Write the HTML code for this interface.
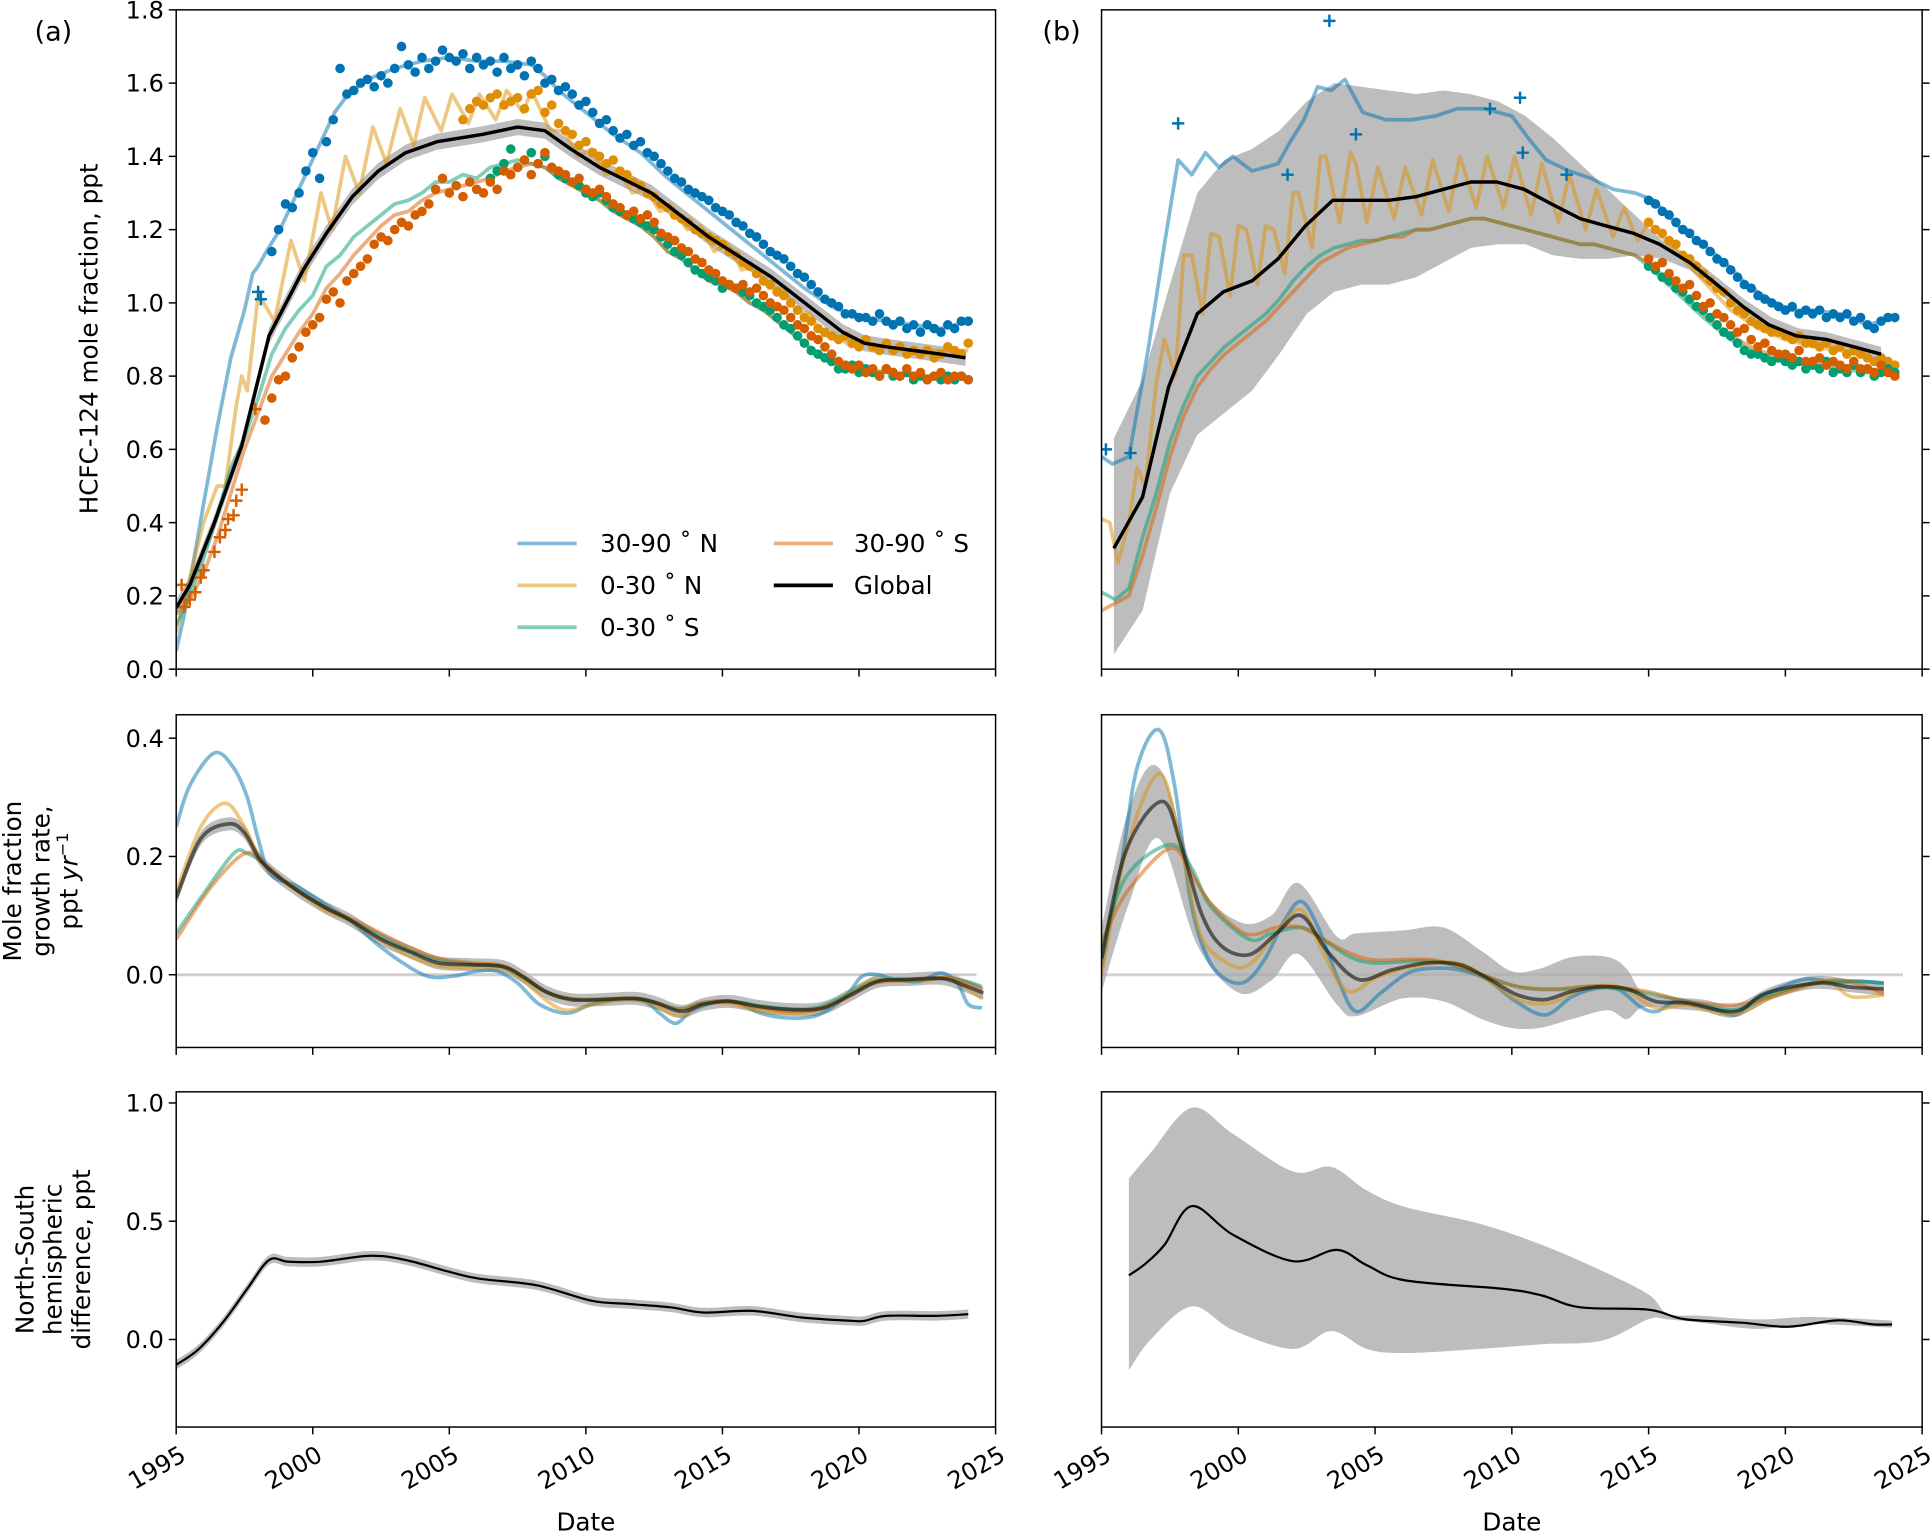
<!DOCTYPE html>
<html><head><meta charset="utf-8"><title>HCFC-124</title>
<style>html,body{margin:0;padding:0;background:#fff;}svg{display:block;font-family:"DejaVu Sans","Liberation Sans",sans-serif;}</style>
</head><body>
<svg id="chart" xmlns="http://www.w3.org/2000/svg" width="1932" height="1533" viewBox="0 0 1568 1244" preserveAspectRatio="none"></svg>
<script>
// ---------- DATA ----------
const yearTicks = [1995, 2000, 2005, 2010, 2015, 2020, 2025];
const topTicks = [0.0, 0.2, 0.4, 0.6, 0.8, 1.0, 1.2, 1.4, 1.6, 1.8];
const midTicks = [0.0, 0.2, 0.4];
const botTicks = [0.0, 0.5, 1.0];

// Panel (a) top: lines [year, value]
const aBlueLine = [[1995,0.05],[1995.3,0.15],[1995.6,0.28],[1996,0.45],[1996.5,0.66],[1997,0.85],[1997.5,0.98],[1997.8,1.08],[1998,1.10],[1998.3,1.14],[1998.8,1.20],[1999.3,1.28],[1999.8,1.36],[2000.3,1.44],[2000.8,1.52],[2001.3,1.57],[2002,1.61],[2003,1.64],[2004,1.66],[2005,1.67],[2006,1.66],[2007,1.66],[2008,1.65],[2008.5,1.62],[2009,1.58],[2010,1.52],[2011,1.46],[2012,1.41],[2013,1.34],[2014,1.28],[2015,1.22],[2016,1.16],[2017,1.10],[2018,1.04],[2019,0.99],[2020,0.96],[2021,0.95],[2022,0.94],[2023,0.93],[2024,0.95]];
const aYellowLine = [[1995,0.10],[1995.5,0.25],[1996,0.40],[1996.5,0.50],[1996.8,0.50],[1997.2,0.72],[1997.4,0.80],[1997.6,0.76],[1998.0,1.02],[1998.2,1.00],[1998.6,0.95],[1999.2,1.17],[1999.7,1.06],[2000.3,1.30],[2000.7,1.20],[2001.2,1.40],[2001.7,1.30],[2002.2,1.48],[2002.7,1.38],[2003.2,1.53],[2003.7,1.43],[2004.1,1.56],[2004.7,1.47],[2005.1,1.57],[2005.7,1.49],[2006.1,1.57],[2006.7,1.50],[2007.1,1.58],[2007.7,1.52],[2008.0,1.58],[2008.7,1.47],[2009.2,1.47],[2009.7,1.40],[2010.2,1.42],[2010.7,1.35],[2011.2,1.36],[2011.7,1.30],[2012.2,1.31],[2012.7,1.25],[2013.2,1.26],[2013.7,1.20],[2014.2,1.21],[2014.7,1.14],[2015.2,1.16],[2015.7,1.09],[2016.2,1.10],[2016.7,1.04],[2017.2,1.04],[2017.7,0.98],[2018.2,0.97],[2018.7,0.91],[2019.2,0.91],[2019.7,0.88],[2020.2,0.89],[2021,0.88],[2022,0.87],[2023,0.87],[2024,0.87]];
const aGreenLine = [[1995,0.12],[1995.5,0.20],[1996,0.30],[1996.5,0.42],[1997,0.55],[1997.5,0.63],[1998,0.74],[1998.5,0.86],[1999,0.93],[1999.5,0.98],[2000,1.02],[2000.5,1.10],[2001,1.13],[2001.5,1.18],[2002,1.21],[2002.5,1.24],[2003,1.27],[2003.5,1.28],[2004,1.30],[2004.5,1.33],[2005,1.33],[2005.5,1.35],[2006,1.34],[2006.5,1.37],[2007,1.38],[2007.5,1.39],[2008,1.38],[2008.5,1.37],[2009,1.34],[2009.5,1.32],[2010,1.30],[2010.5,1.28],[2011,1.25],[2011.5,1.23],[2012,1.21],[2012.5,1.18],[2013,1.14],[2013.5,1.12],[2014,1.09],[2014.5,1.06],[2015,1.05],[2015.5,1.03],[2016,1.00],[2016.5,0.98],[2017,0.95],[2017.5,0.92],[2018,0.89],[2018.5,0.86],[2019,0.84],[2019.5,0.83],[2020,0.82],[2021,0.81],[2022,0.80],[2023,0.80],[2024,0.79]];
const aOrangeLine = [[1995,0.15],[1995.5,0.19],[1996,0.26],[1996.5,0.36],[1997,0.48],[1997.5,0.60],[1998,0.70],[1998.5,0.80],[1999,0.86],[1999.5,0.92],[2000,0.97],[2000.5,1.04],[2001,1.08],[2001.5,1.13],[2002,1.17],[2002.5,1.21],[2003,1.24],[2003.5,1.25],[2004,1.28],[2004.5,1.30],[2005,1.31],[2005.5,1.32],[2006,1.33],[2006.5,1.34],[2007,1.36],[2007.5,1.37],[2008,1.38],[2008.5,1.37],[2009,1.34],[2009.5,1.32],[2010,1.30],[2010.5,1.28],[2011,1.25],[2011.5,1.23],[2012,1.21],[2012.5,1.18],[2013,1.14],[2013.5,1.12],[2014,1.09],[2014.5,1.06],[2015,1.05],[2015.5,1.03],[2016,1.00],[2016.5,0.98],[2017,0.95],[2017.5,0.92],[2018,0.89],[2018.5,0.86],[2019,0.84],[2019.5,0.83],[2020,0.82],[2021,0.81],[2022,0.80],[2023,0.80],[2024,0.79]];
const aGlobalLine = [[1995,0.167],[1995.5,0.23],[1996.4,0.40],[1997.4,0.61],[1998.4,0.91],[1999.65,1.09],[2000.5,1.19],[2001.45,1.29],[2002.4,1.36],[2003.4,1.41],[2004.55,1.44],[2006.2,1.46],[2007.5,1.48],[2008.5,1.47],[2009.45,1.42],[2010.5,1.37],[2012.4,1.30],[2014.5,1.18],[2016.8,1.07],[2019.4,0.92],[2020.2,0.89],[2021,0.88],[2022,0.87],[2023,0.86],[2023.9,0.85]];
const aGlobalErr = 0.022;

// Panel (a) dots: start year, quarterly values
const aBlueDotsStart = 1998.5;
const aBlueDots = [1.14,1.20,1.27,1.26,1.30,1.36,1.41,1.34,1.44,1.50,1.64,1.57,1.58,1.60,1.61,1.59,1.62,1.60,1.64,1.70,1.65,1.63,1.67,1.64,1.66,1.69,1.67,1.66,1.68,1.64,1.67,1.65,1.66,1.63,1.67,1.64,1.65,1.62,1.66,1.64,1.60,1.61,1.58,1.59,1.57,1.54,1.55,1.52,1.49,1.50,1.47,1.45,1.46,1.43,1.44,1.41,1.40,1.38,1.36,1.34,1.33,1.31,1.30,1.29,1.28,1.26,1.25,1.24,1.22,1.21,1.19,1.18,1.16,1.14,1.13,1.12,1.10,1.08,1.07,1.05,1.03,1.01,1.00,0.99,0.97,0.97,0.96,0.96,0.95,0.97,0.95,0.94,0.95,0.93,0.94,0.92,0.94,0.93,0.92,0.94,0.93,0.95,0.95];
const aYellowDotsStart = 2005.5;
const aYellowDots = [1.50,1.53,1.55,1.54,1.56,1.57,1.54,1.55,1.56,1.53,1.57,1.58,1.52,1.54,1.49,1.47,1.46,1.43,1.44,1.41,1.40,1.38,1.39,1.36,1.35,1.33,1.32,1.30,1.29,1.27,1.26,1.24,1.23,1.22,1.20,1.19,1.18,1.17,1.16,1.14,1.13,1.11,1.10,1.08,1.06,1.05,1.03,1.02,1.00,0.98,0.96,0.95,0.93,0.92,0.91,0.90,0.91,0.89,0.88,0.90,0.88,0.87,0.89,0.87,0.88,0.86,0.87,0.86,0.87,0.85,0.86,0.88,0.87,0.86,0.89];
const aGreenDotsStart = 2006.5;
const aGreenDots = [1.34,1.36,1.38,1.42,1.37,1.39,1.41,1.38,1.40,1.37,1.35,1.34,1.33,1.32,1.30,1.29,1.30,1.28,1.26,1.25,1.24,1.23,1.22,1.21,1.20,1.18,1.16,1.14,1.13,1.11,1.09,1.08,1.07,1.06,1.04,1.05,1.04,1.03,1.02,1.00,0.99,0.98,0.96,0.94,0.93,0.91,0.89,0.87,0.86,0.85,0.84,0.82,0.82,0.83,0.81,0.82,0.81,0.80,0.82,0.80,0.80,0.81,0.79,0.80,0.79,0.80,0.79,0.80,0.79,0.80,0.79];
const aOrangeDotsStart = 1998.25;
const aOrangeDots = [0.68,0.74,0.79,0.80,0.85,0.88,0.92,0.94,0.96,1.01,1.03,1.00,1.06,1.08,1.10,1.12,1.16,1.18,1.17,1.20,1.22,1.21,1.24,1.25,1.27,1.31,1.34,1.30,1.32,1.29,1.33,1.31,1.30,1.33,1.31,1.36,1.35,1.37,1.39,1.35,1.38,1.41,1.37,1.36,1.35,1.33,1.34,1.31,1.30,1.31,1.29,1.27,1.26,1.24,1.25,1.23,1.24,1.22,1.19,1.18,1.17,1.15,1.14,1.12,1.11,1.09,1.08,1.06,1.05,1.04,1.05,1.03,1.04,1.02,1.00,0.99,0.98,0.96,0.94,0.93,0.91,0.90,0.88,0.86,0.84,0.83,0.82,0.83,0.81,0.82,0.80,0.82,0.81,0.80,0.82,0.80,0.81,0.79,0.80,0.81,0.79,0.80,0.80,0.79];
const aOrangeCrosses = [[1995.2,0.23],[1995.3,0.17],[1995.5,0.19],[1995.7,0.21],[1995.9,0.25],[1996.0,0.27],[1996.4,0.32],[1996.6,0.36],[1996.8,0.38],[1996.9,0.41],[1997.1,0.42],[1997.2,0.46],[1997.4,0.49],[1997.9,0.71]];
const aBlueCrosses = [[1998.0,1.03],[1998.1,1.01]];

// Panel (b) top
const bBlueLine = [[1995,0.58],[1995.4,0.56],[1996,0.58],[1996.7,0.87],[1997.3,1.16],[1997.8,1.39],[1998.3,1.35],[1998.8,1.41],[1999.3,1.37],[1999.8,1.40],[2000.5,1.36],[2001.45,1.38],[2001.9,1.44],[2002.4,1.50],[2002.9,1.59],[2003.4,1.58],[2003.9,1.61],[2004.55,1.52],[2005.4,1.50],[2006.35,1.50],[2007.2,1.51],[2008,1.53],[2009,1.53],[2010,1.51],[2010.6,1.45],[2011.25,1.39],[2012.1,1.36],[2012.9,1.34],[2013.7,1.31],[2014.5,1.30],[2015.2,1.28],[2016.2,1.20],[2017,1.16],[2017.8,1.11],[2018.6,1.05],[2019.4,1.01],[2020.2,0.98],[2021,0.98],[2022,0.97],[2023,0.94],[2024,0.96]];
const bYellowLine = [[1995,0.41],[1995.3,0.40],[1995.6,0.29],[1996,0.40],[1996.3,0.55],[1996.6,0.50],[1997.0,0.78],[1997.3,0.90],[1997.7,0.80],[1998.0,1.13],[1998.3,1.13],[1998.7,0.97],[1999.0,1.19],[1999.3,1.18],[1999.7,1.02],[2000.0,1.21],[2000.3,1.20],[2000.7,1.05],[2001.0,1.21],[2001.3,1.20],[2001.7,1.08],[2002.0,1.30],[2002.2,1.30],[2002.7,1.15],[2003.0,1.40],[2003.2,1.40],[2003.7,1.22],[2004.1,1.41],[2004.3,1.38],[2004.7,1.22],[2005.1,1.37],[2005.7,1.23],[2006.1,1.37],[2006.7,1.24],[2007.1,1.39],[2007.7,1.25],[2008.1,1.40],[2008.7,1.26],[2009.1,1.40],[2009.7,1.26],[2010.1,1.40],[2010.7,1.24],[2011.1,1.38],[2011.7,1.22],[2012.1,1.35],[2012.7,1.20],[2013.1,1.31],[2013.7,1.18],[2014.1,1.26],[2014.6,1.17],[2015.0,1.22],[2016,1.14],[2017,1.06],[2018,0.98],[2019,0.93],[2020,0.90],[2021,0.88],[2022,0.87],[2023,0.85],[2024,0.83]];
const bGreenLine = [[1995,0.21],[1995.5,0.19],[1996,0.22],[1996.5,0.36],[1997,0.48],[1997.5,0.62],[1998,0.72],[1998.5,0.80],[1999,0.84],[1999.5,0.88],[2000,0.91],[2000.5,0.94],[2001,0.97],[2001.5,1.01],[2002,1.06],[2002.5,1.10],[2003,1.13],[2003.5,1.15],[2004,1.16],[2004.5,1.17],[2005,1.17],[2005.5,1.18],[2006,1.19],[2006.5,1.20],[2007,1.20],[2007.5,1.21],[2008,1.22],[2008.5,1.23],[2009,1.23],[2009.5,1.22],[2010,1.21],[2010.5,1.20],[2011,1.19],[2011.5,1.18],[2012,1.17],[2012.5,1.16],[2013,1.16],[2013.5,1.15],[2014,1.14],[2014.5,1.13],[2015,1.10],[2016,1.03],[2017,0.96],[2018,0.90],[2019,0.86],[2020,0.84],[2021,0.83],[2022,0.82],[2023,0.81],[2024,0.81]];
const bOrangeLine = [[1995,0.16],[1995.5,0.18],[1996,0.20],[1996.5,0.31],[1997,0.44],[1997.5,0.58],[1998,0.69],[1998.5,0.77],[1999,0.82],[1999.5,0.86],[2000,0.89],[2000.5,0.92],[2001,0.95],[2001.5,0.99],[2002,1.03],[2002.5,1.07],[2003,1.11],[2003.5,1.13],[2004,1.15],[2004.5,1.16],[2005,1.17],[2005.5,1.18],[2006,1.18],[2006.5,1.20],[2007,1.20],[2007.5,1.21],[2008,1.22],[2008.5,1.23],[2009,1.23],[2009.5,1.22],[2010,1.21],[2010.5,1.20],[2011,1.19],[2011.5,1.18],[2012,1.17],[2012.5,1.16],[2013,1.16],[2013.5,1.15],[2014,1.14],[2014.5,1.13],[2015,1.11],[2016,1.04],[2017,0.97],[2018,0.91],[2019,0.87],[2020,0.85],[2021,0.84],[2022,0.83],[2023,0.82],[2024,0.81]];
const bGlobalLine = [[1995.45,0.33],[1996.5,0.47],[1997.45,0.77],[1998.5,0.97],[1999.45,1.03],[2000.5,1.06],[2001.45,1.12],[2002.45,1.21],[2003.45,1.28],[2004.5,1.28],[2005.5,1.28],[2006.5,1.29],[2007.5,1.31],[2008.5,1.33],[2009.45,1.33],[2010.45,1.31],[2011.45,1.27],[2012.5,1.23],[2013.45,1.21],[2014.45,1.19],[2015.4,1.16],[2016.5,1.11],[2017.5,1.05],[2018.45,0.99],[2019.4,0.94],[2020.4,0.91],[2021.5,0.90],[2022.5,0.88],[2023.5,0.86]];
const bBandYears = [1995.45,1996.5,1997.5,1998.5,1999.5,2000.5,2001.5,2002.5,2003.5,2004.5,2005.5,2006.5,2007.5,2008.5,2009.5,2010.5,2011.5,2012.5,2013.5,2014.5,2015.5,2016.5,2017.5,2018.5,2019.5,2020.5,2021.5,2022.5,2023.5];
const bBandUpper = [0.63,0.79,1.05,1.30,1.39,1.42,1.47,1.55,1.60,1.59,1.58,1.57,1.58,1.57,1.55,1.51,1.45,1.38,1.31,1.24,1.17,1.13,1.07,1.01,0.96,0.93,0.92,0.90,0.88];
const bBandLower = [0.04,0.16,0.48,0.64,0.70,0.76,0.86,0.97,1.03,1.05,1.05,1.07,1.11,1.15,1.16,1.16,1.13,1.12,1.12,1.13,1.12,1.09,1.03,0.97,0.92,0.89,0.88,0.86,0.84];
const bDotsStart = 2015.0;
const bBlueDots = [1.28,1.27,1.25,1.24,1.22,1.20,1.19,1.17,1.16,1.14,1.12,1.11,1.09,1.07,1.05,1.04,1.02,1.01,1.00,0.99,0.98,0.99,0.97,0.98,0.97,0.98,0.96,0.97,0.96,0.97,0.95,0.96,0.94,0.93,0.95,0.96,0.96];
const bYellowDots = [1.22,1.20,1.19,1.17,1.16,1.13,1.12,1.10,1.08,1.06,1.04,1.03,1.00,0.98,0.97,0.95,0.94,0.93,0.92,0.92,0.91,0.90,0.91,0.89,0.89,0.88,0.89,0.87,0.88,0.86,0.87,0.86,0.85,0.84,0.85,0.84,0.83];
const bOrangeDots = [1.12,1.10,1.11,1.08,1.06,1.04,1.05,1.02,0.99,1.00,0.97,0.96,0.94,0.92,0.93,0.90,0.88,0.89,0.87,0.86,0.86,0.85,0.87,0.84,0.84,0.85,0.83,0.84,0.83,0.82,0.84,0.82,0.82,0.81,0.83,0.81,0.80];
const bGreenDots = [1.10,1.09,1.07,1.06,1.04,1.03,1.01,0.99,0.98,0.96,0.94,0.92,0.91,0.89,0.87,0.86,0.86,0.85,0.84,0.85,0.84,0.83,0.84,0.82,0.83,0.82,0.84,0.81,0.82,0.81,0.83,0.81,0.82,0.80,0.81,0.82,0.81];
const bBlueCrosses = [[1995.16,0.60],[1996.06,0.59],[1997.8,1.49],[2001.8,1.35],[2003.33,1.77],[2004.3,1.46],[2009.2,1.53],[2010.3,1.56],[2010.4,1.41],[2012.0,1.35]];

// Growth rate panels
const gaBlue = [[1995,0.25],[1995.5,0.32],[1996.4,0.375],[1997.1,0.35],[1997.6,0.30],[1998,0.23],[1998.45,0.17],[1999.4,0.15],[2000.6,0.115],[2001.5,0.087],[2002.3,0.054],[2003.3,0.02],[2004.25,-0.003],[2005.2,-0.002],[2006,0.006],[2006.75,0.006],[2007.5,-0.014],[2008.3,-0.05],[2009.3,-0.065],[2010.2,-0.05],[2011.2,-0.042],[2012.15,-0.045],[2012.7,-0.065],[2013.3,-0.082],[2013.9,-0.06],[2014.9,-0.045],[2015.6,-0.048],[2016.4,-0.065],[2017.4,-0.073],[2018.5,-0.068],[2019.5,-0.037],[2020.1,-0.003],[2020.7,0.0],[2021.3,-0.008],[2022.2,-0.011],[2023,0.003],[2023.6,-0.014],[2024,-0.05],[2024.5,-0.056]];
const gaYellow = [[1995,0.14],[1995.9,0.25],[1996.8,0.29],[1997.5,0.25],[1998.15,0.19],[1999.2,0.15],[2000.4,0.11],[2001.4,0.09],[2002.5,0.058],[2003.6,0.03],[2004.6,0.015],[2005.8,0.012],[2006.9,0.011],[2007.7,-0.01],[2008.6,-0.045],[2009.3,-0.06],[2010.3,-0.05],[2011.3,-0.042],[2012.2,-0.045],[2013.4,-0.07],[2014.2,-0.05],[2015.2,-0.048],[2016.3,-0.06],[2017.5,-0.065],[2018.5,-0.06],[2019.5,-0.035],[2020.5,-0.008],[2021.5,-0.01],[2022.5,-0.008],[2023.3,-0.006],[2024,-0.025],[2024.5,-0.04]];
const gaGreen = [[1995,0.07],[1995.9,0.13],[1997.1,0.205],[1997.6,0.205],[1998.15,0.19],[1999.2,0.15],[2000.4,0.115],[2001.4,0.092],[2002.5,0.065],[2003.6,0.04],[2004.6,0.025],[2005.8,0.018],[2006.9,0.014],[2007.7,-0.005],[2008.6,-0.03],[2009.4,-0.04],[2010.3,-0.042],[2011.3,-0.04],[2012.2,-0.042],[2013.4,-0.058],[2014.2,-0.048],[2015.2,-0.044],[2016.3,-0.052],[2017.5,-0.058],[2018.5,-0.055],[2019.5,-0.035],[2020.5,-0.012],[2021.5,-0.008],[2022.5,-0.008],[2023.3,-0.006],[2024,-0.012],[2024.5,-0.02]];
const gaOrange = [[1995,0.06],[1996.3,0.15],[1997.5,0.205],[1998.15,0.19],[1999.2,0.15],[2000.4,0.115],[2001.4,0.095],[2002.5,0.07],[2003.6,0.045],[2004.6,0.028],[2005.8,0.02],[2006.9,0.016],[2007.7,-0.003],[2008.6,-0.03],[2009.4,-0.04],[2010.3,-0.042],[2011.3,-0.04],[2012.2,-0.043],[2013.4,-0.058],[2014.2,-0.048],[2015.2,-0.045],[2016.3,-0.055],[2017.5,-0.062],[2018.5,-0.058],[2019.5,-0.04],[2020.5,-0.015],[2021.5,-0.01],[2022.5,-0.008],[2023.3,-0.005],[2024,-0.015],[2024.5,-0.025]];
const gaGlobal = [[1995,0.13],[1995.9,0.23],[1996.9,0.255],[1997.5,0.24],[1998.15,0.19],[1999.2,0.15],[2000.4,0.115],[2001.35,0.093],[2002.5,0.06],[2003.65,0.037],[2004.6,0.02],[2005.8,0.017],[2006.95,0.014],[2007.7,-0.003],[2008.5,-0.028],[2009.45,-0.042],[2010.6,-0.042],[2011.8,-0.04],[2012.6,-0.048],[2013.5,-0.062],[2014.3,-0.05],[2015.25,-0.045],[2016.4,-0.054],[2017.6,-0.059],[2018.7,-0.056],[2019.7,-0.034],[2020.7,-0.011],[2021.8,-0.008],[2023,-0.006],[2023.8,-0.017],[2024.55,-0.031]];
const gaErr = 0.011;

const gbBlue = [[1995,0.014],[1995.7,0.18],[1996.3,0.35],[1997.1,0.414],[1997.67,0.32],[1998.25,0.127],[1998.8,0.037],[1999.4,-0.003],[2000.2,-0.013],[2000.95,0.025],[2001.7,0.093],[2002.3,0.124],[2002.9,0.082],[2003.65,-0.008],[2004.3,-0.062],[2005.2,-0.031],[2006.2,0.003],[2007.1,0.011],[2008.1,0.008],[2009.1,-0.008],[2010.05,-0.042],[2011.2,-0.068],[2012.2,-0.037],[2013.1,-0.023],[2013.9,-0.025],[2014.7,-0.054],[2015.3,-0.062],[2016,-0.045],[2017,-0.051],[2018.15,-0.068],[2018.9,-0.042],[2019.9,-0.02],[2020.8,-0.007],[2021.8,-0.013],[2022.6,-0.011],[2023.6,-0.014]];
const gbYellow = [[1995,0.0],[1995.9,0.21],[1997.1,0.34],[1997.9,0.22],[1998.6,0.07],[1999.6,0.02],[2000.4,0.017],[2001.4,0.07],[2002.3,0.11],[2003.1,0.037],[2004,-0.028],[2005.1,-0.003],[2006.4,0.014],[2008,0.02],[2009.1,-0.008],[2010.2,-0.042],[2011.4,-0.048],[2012.5,-0.025],[2013.9,-0.02],[2015.25,-0.056],[2016.4,-0.051],[2018.15,-0.066],[2019.9,-0.028],[2021.5,-0.012],[2022.4,-0.037],[2023.6,-0.034]];
const gbGreen = [[1995,0.045],[1995.9,0.166],[1997.5,0.22],[1998.3,0.18],[1999,0.115],[2000.4,0.06],[2001.2,0.07],[2002.3,0.08],[2003.1,0.06],[2004.05,0.031],[2005,0.02],[2007.1,0.023],[2008.7,0.003],[2010.2,-0.02],[2011.6,-0.025],[2013.1,-0.02],[2014.9,-0.031],[2016.4,-0.045],[2018.15,-0.059],[2019.5,-0.034],[2021.2,-0.013],[2022.6,-0.011],[2023.6,-0.014]];
const gbOrange = [[1995,0.054],[1995.9,0.138],[1997.5,0.214],[1998.3,0.17],[1999,0.12],[2000,0.076],[2000.6,0.068],[2001.4,0.08],[2002.3,0.08],[2003.1,0.06],[2004.05,0.037],[2005,0.025],[2007.1,0.025],[2008.7,0.003],[2010.2,-0.02],[2011.6,-0.024],[2013.1,-0.019],[2014.9,-0.028],[2016.4,-0.045],[2018.15,-0.051],[2019.5,-0.037],[2021.8,-0.009],[2023.6,-0.031]];
const gbGlobal = [[1995,0.027],[1995.9,0.21],[1997.2,0.293],[1997.9,0.22],[1998.65,0.104],[1999.4,0.048],[2000.4,0.034],[2001.4,0.07],[2002.3,0.10],[2003.3,0.037],[2004.4,-0.008],[2005.6,0.008],[2006.9,0.02],[2008.1,0.017],[2009.2,-0.008],[2010.2,-0.034],[2011.2,-0.042],[2012.2,-0.028],[2013.3,-0.02],[2014.3,-0.025],[2015.25,-0.045],[2016.4,-0.048],[2018.15,-0.062],[2019.3,-0.031],[2021.2,-0.014],[2022.4,-0.021],[2023.6,-0.024]];
const gbBandYears = [1995,1996,1997.1,1998.5,2000,2001.2,2002.2,2003.6,2004.3,2006,2007.5,2008.9,2010,2011,2012.2,2013.5,2014.2,2014.8,2016,2017,2018.15,2019.5,2021,2022.5,2023.6];
const gbBandUpper = [0.08,0.28,0.35,0.16,0.09,0.10,0.155,0.065,0.07,0.075,0.08,0.04,0.006,0.01,0.03,0.03,0.01,-0.03,-0.038,-0.042,-0.05,-0.02,-0.002,-0.008,-0.012];
const gbBandLower = [-0.03,0.12,0.23,0.05,-0.03,-0.01,0.035,-0.05,-0.07,-0.04,-0.045,-0.075,-0.09,-0.09,-0.075,-0.06,-0.075,-0.055,-0.058,-0.062,-0.072,-0.042,-0.024,-0.03,-0.036];

// Hemispheric difference panels
const haGlobal = [[1995,-0.107],[1995.8,-0.043],[1996.7,0.071],[1997.6,0.214],[1998.4,0.336],[1999.1,0.329],[2000.3,0.329],[2002.1,0.354],[2003.4,0.336],[2005,0.286],[2006.1,0.257],[2008.2,0.229],[2010.2,0.164],[2011.6,0.15],[2013.1,0.136],[2014.3,0.114],[2016.1,0.121],[2017.9,0.093],[2019.7,0.079],[2020.2,0.079],[2021,0.10],[2022.8,0.10],[2024,0.107]];
const haErr = 0.02;
const hbGlobal = [[1996,0.271],[1996.6,0.32],[1997.3,0.40],[1998.3,0.564],[1999.8,0.443],[2002,0.331],[2003.6,0.379],[2004.7,0.314],[2006.1,0.25],[2009.7,0.214],[2011.1,0.186],[2012.5,0.136],[2015,0.126],[2016.3,0.086],[2018.4,0.071],[2020.1,0.054],[2021.9,0.081],[2023.2,0.064],[2023.9,0.064]];
const hbBandYears = [1996,1996.8,1998.3,1999.8,2002,2003.4,2004.7,2006.1,2008.8,2011.1,2013.3,2015,2015.7,2017,2019,2021,2023.9];
const hbBandUpper = [0.68,0.79,0.98,0.87,0.71,0.73,0.63,0.56,0.49,0.40,0.29,0.19,0.11,0.10,0.085,0.095,0.08];
const hbBandLower = [-0.13,0.0,0.14,0.04,-0.04,0.036,-0.04,-0.057,-0.04,-0.02,-0.005,0.086,0.085,0.07,0.045,0.065,0.05];

// ---------- RENDER ----------
const svg = document.getElementById('chart');
const NS = 'http://www.w3.org/2000/svg';
const C = {blue:'#0173b2', yellow:'#de8f05', green:'#029e73', orange:'#d55e00'};
function el(tag, attrs, parent) {
  const e = document.createElementNS(NS, tag);
  for (const k in attrs) e.setAttribute(k, attrs[k]);
  (parent || svg).appendChild(e);
  return e;
}
const panels = {
  aTop:{x0:143,x1:808,y0:8,y1:543,vmin:0,vmax:1.8},
  bTop:{x0:894,x1:1560,y0:8,y1:543,vmin:0,vmax:1.8},
  aMid:{x0:143,x1:808,y0:580,y1:850,vmin:-0.1229,vmax:0.4396},
  bMid:{x0:894,x1:1560,y0:580,y1:850,vmin:-0.1229,vmax:0.4396},
  aBot:{x0:143,x1:808,y0:886,y1:1158,vmin:-0.370,vmax:1.047},
  bBot:{x0:894,x1:1560,y0:886,y1:1158,vmin:-0.370,vmax:1.047}
};
function xs(p, yr){ return p.x0 + (yr-1995)/30*(p.x1-p.x0); }
function ys(p, v){ return p.y1 - (v-p.vmin)/(p.vmax-p.vmin)*(p.y1-p.y0); }
const defs = el('defs', {});
for (const k in panels) {
  const p = panels[k];
  const cp = el('clipPath', {id:'clip-'+k}, defs);
  el('rect', {x:p.x0, y:p.y0, width:p.x1-p.x0, height:p.y1-p.y0}, cp);
}
function grp(k, name){
  const g = el('g', {'clip-path':'url(#clip-'+k+')'});
  
  
  return g;
}
function polyD(p, pts){ return pts.map((q,i)=>(i?'L':'M')+xs(p,q[0]).toFixed(2)+' '+ys(p,q[1]).toFixed(2)).join(''); }
function smoothD(p, pts){
  const P = pts.map(q=>[xs(p,q[0]), ys(p,q[1])]);
  let d = 'M'+P[0][0].toFixed(2)+' '+P[0][1].toFixed(2);
  for (let i=0;i<P.length-1;i++){
    const p0=P[Math.max(0,i-1)], p1=P[i], p2=P[i+1], p3=P[Math.min(P.length-1,i+2)];
    const c1=[p1[0]+(p2[0]-p0[0])/6, p1[1]+(p2[1]-p0[1])/6];
    const c2=[p2[0]-(p3[0]-p1[0])/6, p2[1]-(p3[1]-p1[1])/6];
    d+='C'+c1[0].toFixed(2)+' '+c1[1].toFixed(2)+' '+c2[0].toFixed(2)+' '+c2[1].toFixed(2)+' '+p2[0].toFixed(2)+' '+p2[1].toFixed(2);
  }
  return d;
}
function line(g, p, pts, color, w, op, smooth, name){
  const e = el('path', {d:smooth?smoothD(p,pts):polyD(p,pts), fill:'none', stroke:color, 'stroke-width':w, 'stroke-opacity':op, 'stroke-linejoin':'round'}, g);
  
  
}
function bandFromErr(g, p, pts, err, smooth, name, color){
  const up = pts.map(q=>[q[0], q[1]+err]);
  const lo = pts.map(q=>[q[0], q[1]-err]).reverse();
  bandPath(g, p, up, lo, smooth, name, color);
}
function bandPath(g, p, up, lo, smooth, name, color){
  const d1 = smooth?smoothD(p,up):polyD(p,up);
  const d2 = (smooth?smoothD(p,lo):polyD(p,lo)).replace(/^M/,'L');
  const e = el('path', {d:d1+d2+'Z', fill:color||'#bdbdbd', stroke:'none'}, g);
  
  
}
function bandArrays(yrs, upper, lower){
  return [yrs.map((y,i)=>[y, upper[i]]), yrs.map((y,i)=>[y, lower[i]]).reverse()];
}
function dots(g, p, start, vals, color, name){
  vals.forEach((v,i)=>{
    const c = el('circle', {cx:xs(p,start+i*0.25).toFixed(2), cy:ys(p,v).toFixed(2), r:3.9, fill:color}, g);
    
    
  });
}
function crosses(g, p, pts, color, name){
  pts.forEach(q=>{
    const x=xs(p,q[0]), y=ys(p,q[1]);
    const e = el('path', {d:`M${x-5} ${y}H${x+5}M${x} ${y-5}V${y+5}`, stroke:color, 'stroke-width':2, fill:'none'}, g);
    
    
  });
}
const LW = 3;
// --- Top (a)
(function(){
  const p = panels.aTop, g = grp('aTop','panel-a-mole-fraction-series');
  bandFromErr(g,p,aGlobalLine,aGlobalErr,false,'global-uncertainty-band-a');
  line(g,p,aBlueLine,C.blue,LW,0.5,false,'line-30-90n-a');
  line(g,p,aYellowLine,C.yellow,LW,0.5,false,'line-0-30n-a');
  line(g,p,aGreenLine,C.green,LW,0.5,false,'line-0-30s-a');
  line(g,p,aOrangeLine,C.orange,LW,0.5,false,'line-30-90s-a');
  dots(g,p,aBlueDotsStart,aBlueDots,C.blue,'obs-30-90n-a');
  dots(g,p,aYellowDotsStart,aYellowDots,C.yellow,'obs-0-30n-a');
  dots(g,p,aGreenDotsStart,aGreenDots,C.green,'obs-0-30s-a');
  dots(g,p,aOrangeDotsStart,aOrangeDots,C.orange,'obs-30-90s-a');
  crosses(g,p,aOrangeCrosses,C.orange,'flask-30-90s-a');
  crosses(g,p,aBlueCrosses,C.blue,'flask-30-90n-a');
  line(g,p,aGlobalLine,'#000',2.8,1,false,'line-global-a');
})();
// --- Top (b)
(function(){
  const p = panels.bTop, g = grp('bTop','panel-b-mole-fraction-series');
  const b = bandArrays(bBandYears,bBandUpper,bBandLower);
  bandPath(g,p,b[0],b[1],false,'global-uncertainty-band-b');
  line(g,p,bBlueLine,C.blue,LW,0.5,false,'line-30-90n-b');
  line(g,p,bYellowLine,C.yellow,LW,0.5,false,'line-0-30n-b');
  line(g,p,bGreenLine,C.green,LW,0.5,false,'line-0-30s-b');
  line(g,p,bOrangeLine,C.orange,LW,0.5,false,'line-30-90s-b');
  dots(g,p,bDotsStart,bBlueDots,C.blue,'obs-30-90n-b');
  dots(g,p,bDotsStart,bYellowDots,C.yellow,'obs-0-30n-b');
  dots(g,p,bDotsStart,bGreenDots,C.green,'obs-0-30s-b');
  dots(g,p,bDotsStart,bOrangeDots,C.orange,'obs-30-90s-b');
  crosses(g,p,bBlueCrosses,C.blue,'flask-30-90n-b');
  line(g,p,bGlobalLine,'#000',2.8,1,false,'line-global-b');
})();
// --- Middle
(function(){
  let p = panels.aMid, g = grp('aMid','panel-a-growth-rate-series');
  el('line',{x1:xs(p,1995),x2:xs(p,2024.3),y1:ys(p,0),y2:ys(p,0),stroke:'#cfcfcf','stroke-width':2.5},g);
  bandFromErr(g,p,gaGlobal,gaErr,true,'growth-uncertainty-band-a');
  line(g,p,gaBlue,C.blue,LW,0.5,true,'growth-30-90n-a');
  line(g,p,gaYellow,C.yellow,LW,0.5,true,'growth-0-30n-a');
  line(g,p,gaGreen,C.green,LW,0.5,true,'growth-0-30s-a');
  line(g,p,gaOrange,C.orange,LW,0.5,true,'growth-30-90s-a');
  line(g,p,gaGlobal,'#000',LW,0.55,true,'growth-global-a');
  p = panels.bMid; g = grp('bMid','panel-b-growth-rate-series');
  const b = bandArrays(gbBandYears,gbBandUpper,gbBandLower);
  bandPath(g,p,b[0],b[1],true,'growth-uncertainty-band-b');
  el('line',{x1:xs(p,1995),x2:xs(p,2024.3),y1:ys(p,0),y2:ys(p,0),stroke:'#aaa','stroke-width':2.5,'stroke-opacity':0.5},g);
  line(g,p,gbBlue,C.blue,LW,0.5,true,'growth-30-90n-b');
  line(g,p,gbYellow,C.yellow,LW,0.5,true,'growth-0-30n-b');
  line(g,p,gbGreen,C.green,LW,0.5,true,'growth-0-30s-b');
  line(g,p,gbOrange,C.orange,LW,0.5,true,'growth-30-90s-b');
  line(g,p,gbGlobal,'#000',LW,0.55,true,'growth-global-b');
})();
// --- Bottom
(function(){
  let p = panels.aBot, g = grp('aBot','panel-a-hemispheric-difference');
  bandFromErr(g,p,haGlobal,haErr,true,'nsdiff-uncertainty-band-a');
  line(g,p,haGlobal,'#000',1.8,1,true,'nsdiff-line-a');
  p = panels.bBot; g = grp('bBot','panel-b-hemispheric-difference');
  const b = bandArrays(hbBandYears,hbBandUpper,hbBandLower);
  bandPath(g,p,b[0],b[1],true,'nsdiff-uncertainty-band-b');
  line(g,p,hbGlobal,'#000',1.8,1,true,'nsdiff-line-b');
})();

// --- Axes frames, ticks
function axes(k, ticks, side){
  const p = panels[k];
  const g = el('g',{});
  
  
  el('rect',{x:p.x0,y:p.y0,width:p.x1-p.x0,height:p.y1-p.y0,fill:'none',stroke:'#000','stroke-width':1.2},g);
  ticks.forEach(v=>{
    const y = ys(p,v);
    if (side==='left'){
      el('line',{x1:p.x0-6,x2:p.x0,y1:y,y2:y,stroke:'#000','stroke-width':1.2},g);
      const t = el('text',{x:p.x0-10,y:y+7,'text-anchor':'end','font-size':19.5,fill:'#000'},g);
      t.textContent = v.toFixed(1);
      
      
    } else {
      el('line',{x1:p.x1,x2:p.x1+6,y1:y,y2:y,stroke:'#000','stroke-width':1.2},g);
    }
  });
  yearTicks.forEach(yr=>{
    const x = xs(p,yr);
    el('line',{x1:x,x2:x,y1:p.y1,y2:p.y1+6,stroke:'#000','stroke-width':1.2},g);
  });
}
axes('aTop',topTicks,'left'); axes('bTop',topTicks,'right');
axes('aMid',midTicks,'left'); axes('bMid',midTicks,'right');
axes('aBot',botTicks,'left'); axes('bBot',botTicks,'right');

['aBot','bBot'].forEach(k=>{
  const p = panels[k];
  yearTicks.forEach(yr=>{
    const x = xs(p,yr);
    const t = el('text',{x:x+2,y:p.y1+14,'text-anchor':'end','font-size':19.5,transform:`rotate(-30 ${x+2} ${p.y1+14})`,'dominant-baseline':'hanging'});
    t.textContent = yr;
    
    
  });
  const t = el('text',{x:(p.x0+p.x1)/2,y:1242,'text-anchor':'middle','font-size':20});
  t.textContent = 'Date';
  
  
});
</script>
<svg style="position:absolute;left:0;top:0" width="1932" height="1533" viewBox="0 0 1568 1244" preserveAspectRatio="none" font-family="DejaVu Sans, Liberation Sans, sans-serif">
  <text x="28" y="33" font-size="22">(a)</text>
  <text x="846" y="33" font-size="22">(b)</text>
  <text transform="translate(79 275) rotate(-90)" text-anchor="middle" font-size="20">HCFC-124 mole fraction, ppt</text>
  <g transform="translate(0 715) rotate(-90)" font-size="20" text-anchor="middle">
    <text x="0" y="17">Mole fraction</text>
    <text x="0" y="40">growth rate,</text>
    <text x="0" y="63">ppt <tspan font-style="italic">yr</tspan><tspan font-size="13" dy="-8">−1</tspan></text>
  </g>
  <g transform="translate(0 1022) rotate(-90)" font-size="20" text-anchor="middle">
    <text x="0" y="27">North-South</text>
    <text x="0" y="50">hemispheric</text>
    <text x="0" y="73">difference, ppt</text>
  </g>
  <g font-size="20">
    <g><line x1="420" x2="468" y1="441" y2="441" stroke="#0173b2" stroke-opacity="0.5" stroke-width="3"/><text x="487" y="448">30-90 ˚ N</text></g>
    <g><line x1="420" x2="468" y1="475" y2="475" stroke="#de8f05" stroke-opacity="0.5" stroke-width="3"/><text x="487" y="482">0-30 ˚ N</text></g>
    <g><line x1="420" x2="468" y1="509" y2="509" stroke="#029e73" stroke-opacity="0.5" stroke-width="3"/><text x="487" y="516">0-30 ˚ S</text></g>
    <g><line x1="628" x2="676" y1="441" y2="441" stroke="#d55e00" stroke-opacity="0.5" stroke-width="3"/><text x="693" y="448">30-90 ˚ S</text></g>
    <g><line x1="628" x2="676" y1="475" y2="475" stroke="#000" stroke-width="3"/><text x="693" y="482">Global</text></g>
  </g>
</svg>
</body></html>
